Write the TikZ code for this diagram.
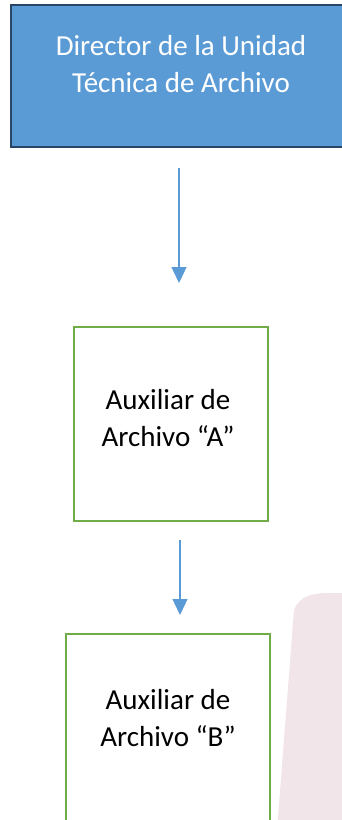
\documentclass[tikz,border=0pt]{standalone}
\usepackage{fontspec}
\setmainfont{Carlito}
\usetikzlibrary{arrows.meta}
\definecolor{boxblue}{HTML}{5B9BD5}
\definecolor{boxborder}{HTML}{2A4666}
\definecolor{boxgreen}{HTML}{70AD47}
\definecolor{arrowblue}{HTML}{5B9BD5}
\definecolor{pinkbg}{RGB}{242,229,234}
\tikzset{
  topbox/.style={draw=boxborder, fill=boxblue, line width=2.5pt, rectangle, inner sep=0pt},
  greenbox/.style={draw=boxgreen, fill=white, line width=2pt, rectangle, inner sep=0pt},
  lbl/.style={align=center, font=\fontsize{29}{37}\selectfont, inner sep=0pt},
  flow/.style={draw=arrowblue, line width=1.3pt, -{Triangle[length=16pt,width=15pt]}}
}
\begin{document}
\begin{tikzpicture}[x=1pt,y=-1pt]
\useasboundingbox (0,0) rectangle (342,820);
\clip (0,0) rectangle (342,820);
% background decorative shape
\fill[pinkbg] (277,830) -- (294,610) .. controls (299,597) and (311,593) .. (327,593) -- (350,593) -- (350,830) -- cycle;
% top box
\node[topbox, minimum width=344pt, minimum height=142pt] (dir) at (183,76) {};
\node[lbl, text=white] (dirtext) at (181,64) {Director de la Unidad\\Técnica de Archivo};
% box A
\node[greenbox, minimum width=194pt, minimum height=194pt] (auxA) at (171,424) {};
\node[lbl] (auxAtext) at (168,418) {Auxiliar de\\Archivo “A”};
% box B
\node[greenbox, minimum width=204pt, minimum height=220pt] (auxB) at (168,744) {};
\node[lbl] (auxBtext) at (168,718) {Auxiliar de\\Archivo “B”};
% arrows
\coordinate (a1s) at (179,168);
\coordinate (a1e) at (179,283);
\coordinate (a2s) at (180,540);
\coordinate (a2e) at (180,615);
\draw[flow] (a1s) -- (a1e);
\draw[flow] (a2s) -- (a2e);
\end{tikzpicture}
\end{document}
